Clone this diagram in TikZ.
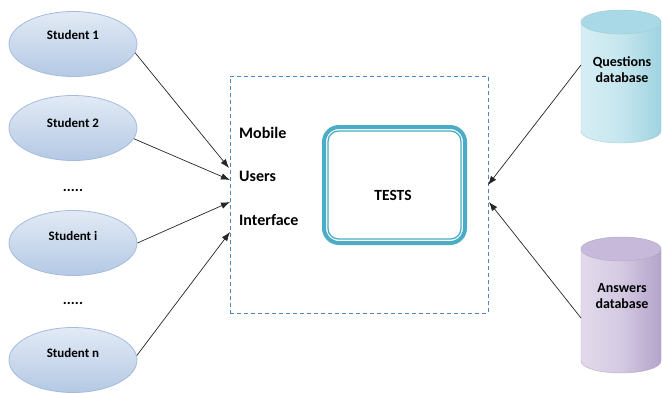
\documentclass[tikz,border=0pt]{standalone}
\usepackage{fontspec}
\setmainfont{Carlito}
\usetikzlibrary{shapes.geometric,arrows.meta}

\definecolor{studtop}{HTML}{E2EAF5}
\definecolor{studbot}{HTML}{B4C9E4}
\definecolor{studline}{HTML}{A3BCDD}
\definecolor{dashblue}{HTML}{4F86C6}
\definecolor{testteal}{HTML}{4BACC6}
\definecolor{qlight}{HTML}{D6EEF4}
\definecolor{qdark}{HTML}{9FD3E1}
\definecolor{qtop}{HTML}{A9D9E6}
\definecolor{alight}{HTML}{E2DAEC}
\definecolor{adark}{HTML}{B3A3CA}
\definecolor{atop}{HTML}{C6B9DA}

\tikzset{
  student/.style={ellipse, draw=studline, line width=0.8pt,
    top color=studtop, bottom color=studbot,
    minimum width=128pt, minimum height=65pt, inner sep=0pt},
  studlabel/.style={font=\bfseries\fontsize{13pt}{15pt}\selectfont, inner sep=0pt},
  dotlabel/.style={font=\bfseries\fontsize{15pt}{17pt}\selectfont, inner sep=0pt},
  uitext/.style={font=\bfseries\fontsize{16pt}{18pt}\selectfont, anchor=west, inner sep=0pt},
  dblabel/.style={font=\bfseries\fontsize{14pt}{16pt}\selectfont, align=center, inner sep=0pt},
  flow/.style={draw=black!85, line width=0.7pt, -{Latex[length=9pt,width=6.5pt]}},
}

\begin{document}
\begin{tikzpicture}[x=1pt,y=-1pt]
  \useasboundingbox (0,0) rectangle (662,392);
  \fill[white] (0,0) rectangle (662,392);

  % students
  \node[student] (s1) at (73,44) {};
  \node[student] (s2) at (73,128) {};
  \node[student] (si) at (73,243) {};
  \node[student] (sn) at (73,360) {};
  \node[studlabel] (s1t) at (73,35) {Student 1};
  \node[studlabel] (s2t) at (73,123) {Student 2};
  \node[studlabel] (sit) at (73,236) {Student i};
  \node[studlabel] (snt) at (73,353) {Student n};
  \node[dotlabel] (d1) at (73,190) {.....};
  \node[dotlabel] (d2) at (73,303) {.....};

  % mobile users interface (dashed frame)
  \node[draw=dashblue, line width=0.9pt, dash pattern=on 4pt off 3pt,
        minimum width=258pt, minimum height=237pt, inner sep=0pt]
        (ui) at (359,194.5) {};
  \node[uitext] (m1) at (239,133) {Mobile};
  \node[uitext] (m2) at (239,176) {Users};
  \node[uitext] (m3) at (239,220) {Interface};

  % tests box with thick-thin border
  \node[draw=testteal, line width=4pt, rounded corners=15pt,
        minimum width=141pt, minimum height=116pt, inner sep=0pt]
        (tests) at (394.5,185) {};
  \node[draw=testteal, line width=1.3pt, rounded corners=10.5pt,
        minimum width=133pt, minimum height=108pt, inner sep=0pt]
        (testsin) at (394.5,185) {};
  \node[font=\bfseries\fontsize{15.5pt}{17pt}\selectfont, inner sep=0pt]
        (testst) at (393,195) {TESTS};

  % questions database cylinder
  \shade[left color=qlight, right color=qdark, middle color=qlight!70!qdark]
    (581,22) -- (581,131) arc[start angle=180, end angle=360, x radius=40pt, y radius=12pt]
    -- (661,22) arc[start angle=0, end angle=180, x radius=40pt, y radius=12pt] -- cycle;
  \draw[qdark!90!black!80, line width=0.4pt] (581,22) -- (581,131)
    arc[start angle=180, end angle=360, x radius=40pt, y radius=12pt] -- (661,22);
  \draw[fill=qtop, draw=qdark!90!black!80, line width=0.4pt]
    (621,22) ellipse[x radius=40pt, y radius=12pt];
  \node[dblabel] (qdb) at (622,70) {Questions\\database};

  % answers database cylinder
  \shade[left color=alight, right color=adark, middle color=alight!70!adark]
    (581,249) -- (581,361) arc[start angle=180, end angle=360, x radius=40pt, y radius=12pt]
    -- (661,249) arc[start angle=0, end angle=180, x radius=40pt, y radius=12pt] -- cycle;
  \draw[adark!90!black!80, line width=0.4pt] (581,249) -- (581,361)
    arc[start angle=180, end angle=360, x radius=40pt, y radius=12pt] -- (661,249);
  \draw[fill=atop, draw=adark!90!black!80, line width=0.4pt]
    (621,249) ellipse[x radius=40pt, y radius=12pt];
  \node[dblabel] (adb) at (622,296) {Answers\\database};

  % connector ends
  \coordinate (e1) at (229,168);
  \coordinate (e2) at (230,180);
  \coordinate (e3) at (230,202);
  \coordinate (e4) at (230,232);
  \coordinate (qs) at (581,65);
  \coordinate (qe) at (488,185);
  \coordinate (as) at (581,318);
  \coordinate (ae) at (489,202);

  \draw[flow] (s1.-8) -- (e1);
  \draw[flow] (s2.-10) -- (e2);
  \draw[flow] (si.east) -- (e3);
  \draw[flow] (sn.4) -- (e4);
  \draw[flow] (qs) -- (qe);
  \draw[flow] (as) -- (ae);
\end{tikzpicture}
\end{document}
